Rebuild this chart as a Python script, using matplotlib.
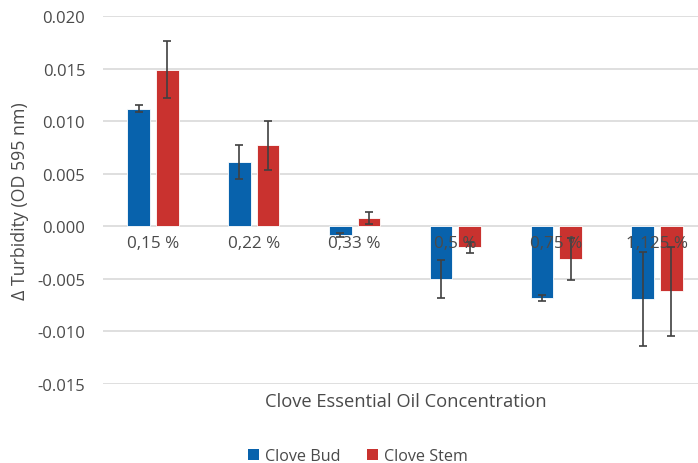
import matplotlib
matplotlib.use("Agg")
import matplotlib.pyplot as plt
import numpy as np
from matplotlib.patches import Patch

categories = ["0,15 %", "0,22 %", "0,33 %", "0,5 %", "0,75 %", "1,125 %"]
bud = [0.0112, 0.0061, -0.0008, -0.0050, -0.0068, -0.0069]
bud_err = [0.00035, 0.0016, 0.00018, 0.0018, 0.0003, 0.0045]
stem = [0.0149, 0.0077, 0.0008, -0.0020, -0.0031, -0.0062]
stem_err = [0.0027, 0.0023, 0.00057, 0.0005, 0.0020, 0.0042]
yticks = [-0.015, -0.010, -0.005, 0.000, 0.005, 0.010, 0.015, 0.020]

plt.rcParams['font.family'] = ['Open Sans', 'DejaVu Sans']
txt = '#4a4a4a'
blue = '#0862AC'
red = '#C9322F'

W, H = 698, 464
fig = plt.figure(figsize=(W/100, H/100), dpi=100)
ax = fig.add_axes([102.5/W, (H-385)/H, 605/W, 368/H])

x = np.arange(len(categories))
off = 0.1417
bw = 0.225
ekw = dict(ecolor='#404040', elinewidth=1.2, capsize=3, capthick=1.2)
ax.bar(x-off, bud, bw, color=blue, edgecolor='white', linewidth=0.6,
       yerr=bud_err, error_kw=ekw, zorder=3)
ax.bar(x+off, stem, bw, color=red, edgecolor='white', linewidth=0.6,
       yerr=stem_err, error_kw=ekw, zorder=3)

ax.set_xlim(-0.5, len(categories)-0.5)
ax.set_ylim(-0.015, 0.020)
ax.set_yticks(yticks)
ax.set_yticklabels([f"{v:.3f}" for v in yticks])
ax.tick_params(axis='y', length=0, pad=12.5, labelsize=12, labelcolor=txt)
ax.set_xticks([])
for s in ax.spines.values():
    s.set_visible(False)
ax.grid(axis='y', color='#d9d9d9', linewidth=1.2, zorder=0)
ax.set_axisbelow(True)

for xi, lab in zip(x, categories):
    ax.annotate(lab, (xi, 0), xytext=(0, -6.5), textcoords='offset points',
                ha='center', va='top', fontsize=12.3, color=txt, zorder=5)

fig.text(405.5/W, (H-401.7)/H, "Clove Essential Oil Concentration",
         ha='center', va='center', fontsize=13.2, color=txt)
fig.text(20/W, (H-201)/H, "Δ Turbidity (OD 595 nm)", rotation=90,
         ha='center', va='center', fontsize=12.8, color=txt)

handles = [Patch(facecolor=blue, label='Clove Bud'), Patch(facecolor=red, label='Clove Stem')]
fig.legend(handles=handles, loc='center', bbox_to_anchor=(358/W, (H-457)/H),
           ncol=2, frameon=False, fontsize=11.6, labelcolor=txt,
           handlelength=0.7, handleheight=0.7, handletextpad=0.4, columnspacing=1.6)

fig.savefig("out.png", dpi=100)
